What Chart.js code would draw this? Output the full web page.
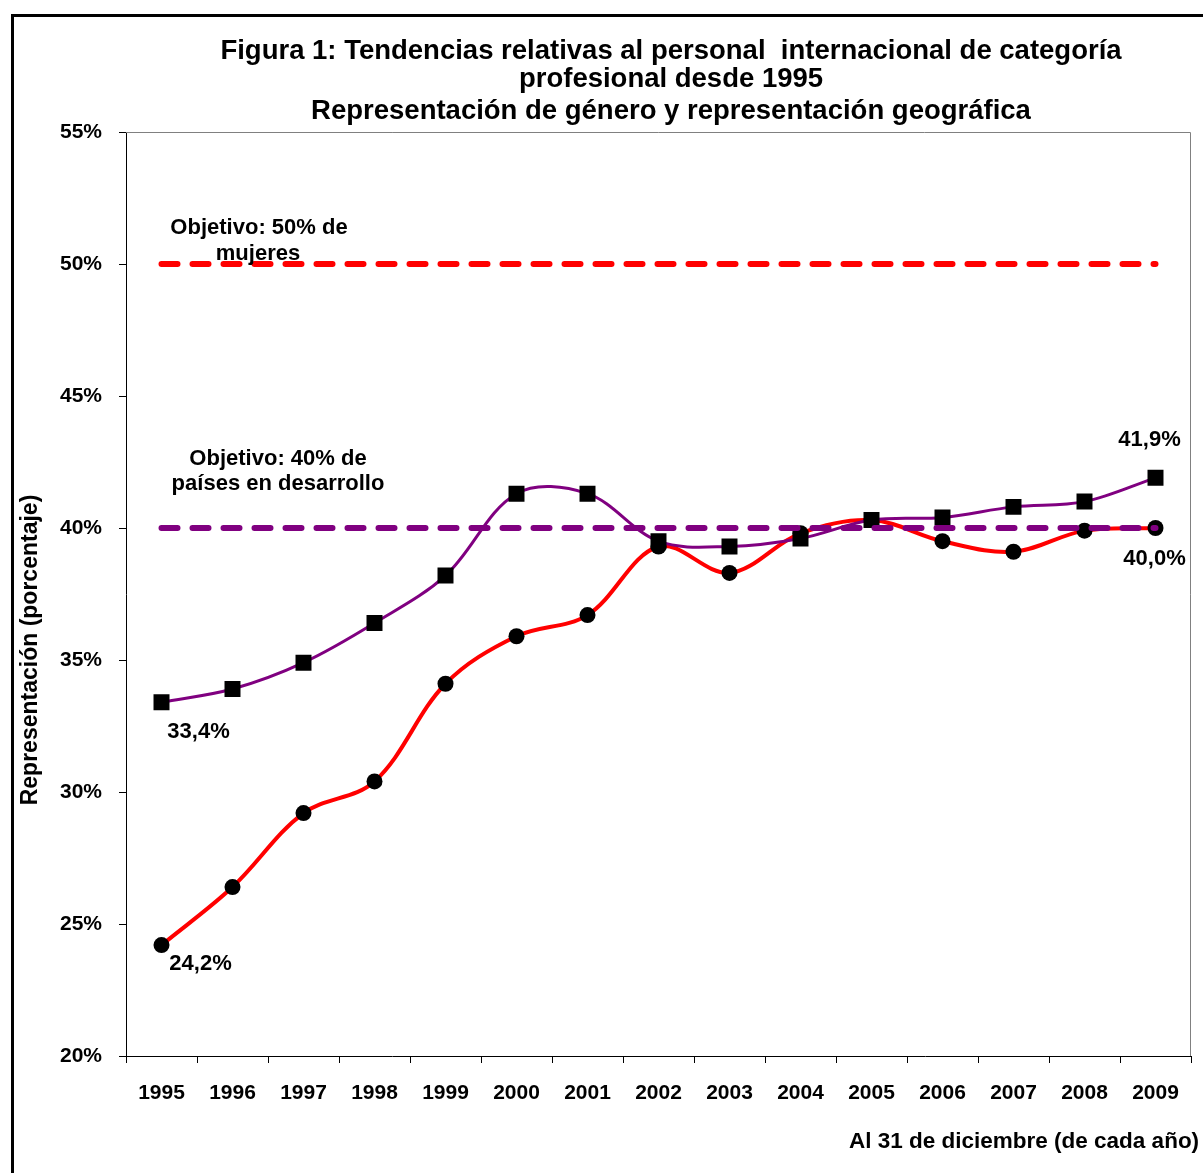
<!DOCTYPE html>
<html>
<head>
<meta charset="utf-8">
<script src="https://cdn.jsdelivr.net/npm/chart.js@4/dist/chart.umd.min.js"></script>
<style>
html,body{margin:0;padding:0;background:#fff;}
#wrap{width:1203px;height:1173px;position:relative;overflow:hidden;}
</style>
</head>
<body>
<div id="wrap"><canvas id="c" width="1203" height="1173"></canvas></div>
<script>
// ---- data ----
const years = ['1995','1996','1997','1998','1999','2000','2001','2002','2003','2004','2005','2006','2007','2008','2009'];
const women = [24.2, 26.4, 29.2, 30.4, 34.1, 35.9, 36.7, 39.3, 38.3, 39.8, 40.3, 39.5, 39.1, 39.9, 40.0];
const developing = [33.4, 33.9, 34.9, 36.4, 38.2, 41.3, 41.3, 39.5, 39.3, 39.6, 40.3, 40.4, 40.8, 41.0, 41.9];
const womenTarget = [50, 50, 50, 50, 50, 50, 50, 50, 50, 50, 50, 50, 50, 50, 50];
const developingTarget = [40, 40, 40, 40, 40, 40, 40, 40, 40, 40, 40, 40, 40, 40, 40];
const yTickValues = [20, 25, 30, 35, 40, 45, 50, 55];
const titleLines = [
  'Figura 1: Tendencias relativas al personal  internacional de categoría',
  'profesional desde 1995',
  'Representación de género y representación geográfica'
];
const yAxisTitle = 'Representación (porcentaje)';
const xAxisTitle = 'Al 31 de diciembre (de cada año)';

const FONT = '"Liberation Sans", Arial, sans-serif';
const fmt = v => v.toFixed(1).replace('.', ',') + '%';

const decor = {
  id: 'decor',
  beforeDraw(chart) {
    const c = chart.ctx;
    c.save();
    c.fillStyle = '#fff';
    c.fillRect(0, 0, chart.width, chart.height);
    c.restore();
  },
  afterDatasetsDraw(chart) {
    const c = chart.ctx;
    const ys = chart.scales.y;
    const a = chart.chartArea;
    c.save();
    // plot frame (gray top / right)
    c.strokeStyle = '#808080';
    c.lineWidth = 1;
    c.beginPath();
    c.moveTo(a.left, a.top + 0.5);
    c.lineTo(a.right - 0.5, a.top + 0.5);
    c.lineTo(a.right - 0.5, a.bottom);
    c.stroke();

    c.fillStyle = '#000';
    c.font = 'bold 22px ' + FONT;
    c.textAlign = 'center';
    c.textBaseline = 'middle';
    // data labels anchored to points
    const mDev = chart.getDatasetMeta(2).data;
    const mWom = chart.getDatasetMeta(3).data;
    const last = years.length - 1;
    c.fillText(fmt(developing[0]), mDev[0].x + 37, mDev[0].y + 30);
    c.fillText(fmt(women[0]), mWom[0].x + 39, mWom[0].y + 19);
    c.fillText(fmt(developing[last]), mDev[last].x - 6, mDev[last].y - 38);
    c.fillText(fmt(women[last]), mWom[last].x - 1, mWom[last].y + 31);

    // target annotations
    c.textBaseline = 'alphabetic';
    const y50 = ys.getPixelForValue(50);
    const y40 = ys.getPixelForValue(40);
    c.fillText('Objetivo: 50% de', 259, y50 - 30);
    c.fillText('mujeres', 258, y50 - 4);
    c.fillText('Objetivo: 40% de', 278, y40 - 63);
    c.fillText('países en desarrollo', 278, y40 - 38);
    c.restore();
  },
  afterDraw(chart) {
    const c = chart.ctx;
    c.save();
    // outer frame
    c.strokeStyle = '#000';
    c.lineWidth = 3;
    c.strokeRect(12.5, 15.5, 1250, 1250);
    // title
    c.fillStyle = '#000';
    c.textAlign = 'center';
    c.textBaseline = 'alphabetic';
    c.font = 'bold 27.5px ' + FONT;
    c.fillText(titleLines[0], 671, 59);
    c.fillText(titleLines[1], 671, 87);
    c.fillText(titleLines[2], 671, 119);
    // axis titles
    c.font = 'bold 22.5px ' + FONT;
    c.textAlign = 'left';
    c.fillText(xAxisTitle, 849, 1148);
    c.font = 'bold 23px ' + FONT;
    c.translate(37, 650);
    c.rotate(-Math.PI / 2);
    c.textAlign = 'center';
    c.fillText(yAxisTitle, 0, 0);
    c.restore();
  }
};

new Chart(document.getElementById('c'), {
  type: 'line',
  data: {
    labels: years,
    datasets: [
      { label: 'Objetivo 40%', data: developingTarget, borderColor: '#800080', borderWidth: 6,
        borderDash: [16, 15], borderCapStyle: 'round', pointRadius: 0, tension: 0, fill: false },
      { label: 'Objetivo 50%', data: womenTarget, borderColor: '#FF0000', borderWidth: 6,
        borderDash: [16, 15], borderCapStyle: 'round', pointRadius: 0, tension: 0, fill: false },
      { label: 'Países en desarrollo', data: developing, borderColor: '#800080', borderWidth: 3,
        pointStyle: 'rect', pointRadius: 11.3, pointBackgroundColor: '#000', pointBorderColor: '#000',
        pointBorderWidth: 0, tension: 0.35, fill: false },
      { label: 'Mujeres', data: women, borderColor: '#FF0000', borderWidth: 4,
        pointStyle: 'circle', pointRadius: 8, pointBackgroundColor: '#000', pointBorderColor: '#000',
        pointBorderWidth: 0, tension: 0.35, fill: false }
    ]
  },
  options: {
    responsive: false,
    animation: false,
    devicePixelRatio: 1,
    layout: { padding: { left: 0, right: 12, top: 132, bottom: 0 } },
    plugins: { legend: { display: false }, tooltip: { enabled: false }, title: { display: false } },
    scales: {
      x: {
        offset: true,
        grid: { offset: true, drawOnChartArea: false, drawTicks: true, tickLength: 7, color: '#000', lineWidth: 1 },
        border: { display: true, color: '#000', width: 1 },
        ticks: { color: '#000', font: { family: FONT, weight: 'bold', size: 21 }, padding: 18,
                 maxRotation: 0, autoSkip: false },
        afterFit(s) { s.height = 117; }
      },
      y: {
        min: 20, max: 55,
        afterBuildTicks(s) { s.ticks = yTickValues.map(v => ({ value: v })); },
        grid: { drawOnChartArea: false, drawTicks: true, tickLength: 7, color: '#000', lineWidth: 1 },
        border: { display: true, color: '#000', width: 1 },
        ticks: { color: '#000', font: { family: FONT, weight: 'bold', size: 21 }, padding: 17,
                 callback: v => v + '%' },
        afterFit(s) { s.width = 126; }
      }
    }
  },
  plugins: [decor]
});
</script>
</body>
</html>
